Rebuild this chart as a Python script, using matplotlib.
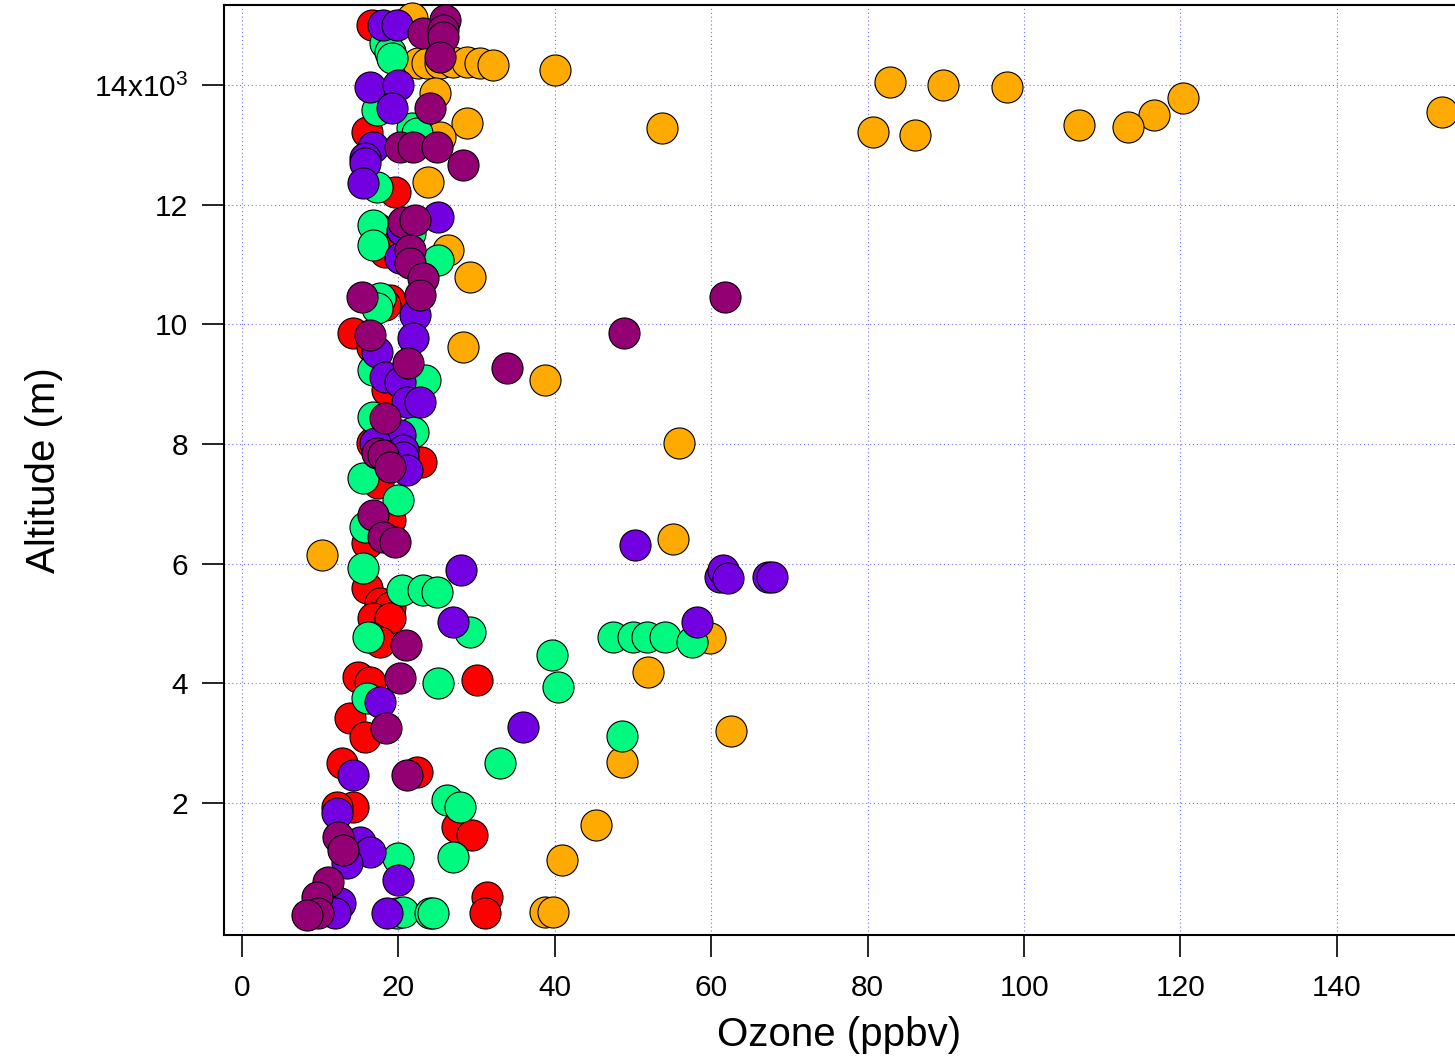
import matplotlib
matplotlib.use("Agg")
from matplotlib import pyplot as plt
from matplotlib.ticker import FixedLocator, FixedFormatter

plt.rcParams["font.family"] = ["Liberation Sans", "DejaVu Sans"]
plt.rcParams["mathtext.fontset"] = "custom"
plt.rcParams["mathtext.rm"] = "Liberation Sans"
plt.rcParams["mathtext.it"] = "Liberation Sans"

# ozone (ppbv) and altitude (m) for each profile
red_ozone = [16.6, 16.0, 19.6, 17.3, 18.3, 18.9, 18.3, 14.2, 16.6, 18.5, 16.6, 22.9, 17.4,
             18.9, 16.0, 16.0, 17.6, 18.9, 16.8, 18.9, 16.4, 17.6, 14.8, 16.4, 30.1, 13.8,
             15.7, 12.8, 22.4, 14.2, 12.1, 27.5, 29.4, 31.3, 31.1]
red_alt = [15004, 13216, 12213, 11611, 11210, 10408, 10324, 9856, 9622, 8904, 8018, 7700, 7349,
           6731, 6346, 5594, 5343, 5277, 5093, 5093, 4775, 4691, 4107, 4023, 4057, 3421,
           3104, 2669, 2519, 1934, 1934, 1600, 1466, 430, 163]

orange_ozone = [21.7, 22.5, 23.7, 25.3, 27.0, 28.8, 30.4, 32.1, 24.7, 28.8, 25.3, 23.8, 26.3,
                29.2, 28.3, 38.7, 10.2, 55.9, 55.1, 59.8, 51.9, 62.5, 48.6, 45.3, 40.9, 38.7,
                39.8, 40.0, 82.9, 89.6, 97.8, 120.3, 116.6, 113.3, 107.0, 80.7, 86.1, 53.7, 153.4]
orange_alt = [15121, 14369, 14369, 14369, 14386, 14386, 14369, 14336, 13868, 13366, 13132, 12380, 11243,
              10792, 9622, 9071, 6146, 8018, 6413, 4758, 4190, 3204, 2686, 1633, 1048, 179,
              179, 14252, 14051, 14001, 13968, 13784, 13500, 13299, 13333, 13216, 13166, 13283, 13550]

green_ozone = [18.3, 18.9, 19.2, 17.3, 21.7, 22.4, 17.3, 16.8, 21.5, 16.8, 25.1, 17.6, 17.3,
               16.8, 23.4, 16.8, 21.9, 15.5, 19.9, 15.7, 15.5, 20.5, 23.1, 24.9, 29.2, 16.1,
               16.0, 25.1, 39.6, 40.4, 47.4, 50.0, 51.8, 54.1, 57.5, 48.6, 33.0, 26.2, 27.9,
               19.9, 27.0, 19.8, 20.6, 24.0, 24.4]
green_alt = [14703, 14553, 14453, 13583, 13283, 13199, 12296, 11661, 11528, 11327, 11076, 10441, 10274,
             9238, 9071, 8452, 8202, 7433, 7065, 6614, 5928, 5561, 5561, 5527, 4859, 4775,
             3756, 4006, 4474, 3940, 4775, 4775, 4775, 4775, 4691, 3121, 2669, 2051, 1934,
             1081, 1098, 163, 179, 163, 163]

violet_ozone = [18.0, 19.8, 16.4, 19.9, 19.2, 16.8, 15.7, 15.7, 15.5, 25.1, 20.5, 20.2, 22.1,
                21.9, 17.3, 18.3, 20.2, 21.1, 22.8, 20.2, 17.0, 20.6, 20.6, 21.1, 28.0, 27.0,
                17.6, 35.9, 14.2, 12.1, 15.1, 16.4, 13.4, 19.9, 12.5, 11.9, 18.5, 50.3, 61.1,
                61.5, 62.1, 67.3, 67.8, 58.2]
violet_alt = [15004, 15004, 13968, 14001, 13617, 12965, 12781, 12698, 12363, 11795, 11578, 11110, 10157,
              9773, 9539, 9121, 9037, 8703, 8703, 8151, 8018, 7901, 7784, 7567, 5895, 5026,
              3689, 3271, 2469, 1834, 1349, 1182, 999, 714, 329, 163, 163, 6313, 5778,
              5895, 5761, 5778, 5778, 5026]

purple_ozone = [23.1, 26.0, 25.7, 25.7, 25.3, 24.0, 20.2, 21.9, 24.9, 28.3, 20.6, 22.1, 21.5,
                21.5, 23.1, 22.8, 15.3, 16.4, 21.2, 18.3, 17.3, 18.0, 18.9, 16.8, 18.0, 19.6,
                21.0, 20.2, 18.4, 21.1, 12.3, 12.9, 11.0, 9.6, 9.7, 8.3, 61.8, 48.8, 33.9]
purple_alt = [14870, 15088, 14921, 14804, 14469, 13617, 12965, 12965, 12965, 12664, 11711, 11745, 11243,
              11026, 10776, 10491, 10458, 9823, 9355, 8436, 7851, 7817, 7617, 6814, 6447, 6363,
              4642, 4090, 3254, 2469, 1433, 1216, 681, 430, 163, 129, 10458, 9856, 9271]

x_ticks = [0, 20, 40, 60, 80, 100, 120, 140]
y_ticks = [2000, 4000, 6000, 8000, 10000, 12000, 14000]
y_tick_labels = ["2", "4", "6", "8", "10", "12", r"14x10$^{3}$"]

series = [
    (red_ozone, red_alt, "#ff0000"),
    (orange_ozone, orange_alt, "#ffaa00"),
    (green_ozone, green_alt, "#00fa80"),
    (violet_ozone, violet_alt, "#7300e0"),
    (purple_ozone, purple_alt, "#920074"),
]

fig = plt.figure(figsize=(14.55, 10.58), dpi=100)
ax = fig.add_axes([224 / 1455, 1 - 935 / 1058, 1 - 224 / 1455, (935 - 5) / 1058])

for xs, ys, c in series:
    ax.scatter(xs, ys, s=500, c=c, edgecolors="black", linewidths=0.8,
               zorder=3, clip_on=False)

ax.set_xlim(-2.3, 155.1)
ax.set_ylim(-206, 15338)

ax.xaxis.set_major_locator(FixedLocator(x_ticks))
ax.yaxis.set_major_locator(FixedLocator(y_ticks))
ax.yaxis.set_major_formatter(FixedFormatter(y_tick_labels))
ax.grid(True, color="#7070ff", linestyle=(0, (1, 2.5)), linewidth=0.8, zorder=0)

ax.tick_params(direction="out", length=16, width=1.2, labelsize=21.5, pad=10)
ax.tick_params(axis="x", pad=12)
for side in ["left", "bottom", "top"]:
    ax.spines[side].set_linewidth(1.5)
ax.spines["right"].set_visible(False)

ax.set_xlabel("Ozone (ppbv)", fontsize=29, labelpad=10)
ax.set_ylabel("Altitude (m)", fontsize=29, labelpad=22)

fig.savefig("out.png", dpi=100)
